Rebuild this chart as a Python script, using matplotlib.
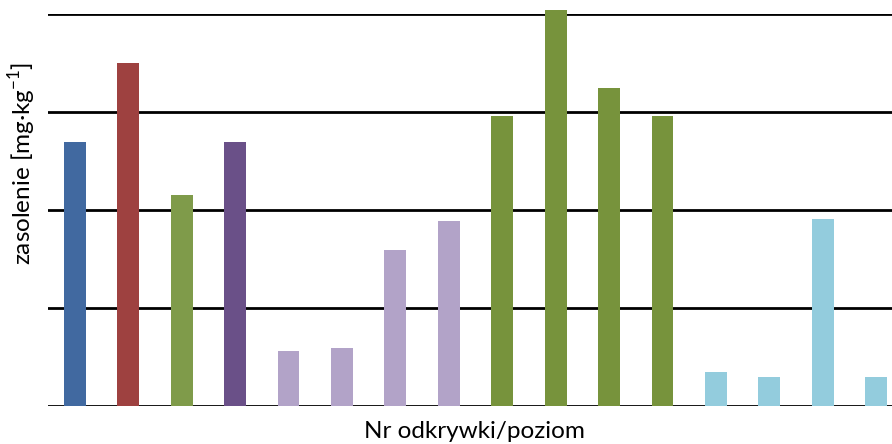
import matplotlib
matplotlib.use('Agg')
import matplotlib.pyplot as plt

plt.rcParams['font.family'] = ['Lato', 'DejaVu Sans']
plt.rcParams['mathtext.fontset'] = 'custom'
plt.rcParams['mathtext.rm'] = 'Lato'

# bar heights in gridline units (no tick labels on the original)
values = [2.69, 3.50, 2.15, 2.69, 0.56, 0.59, 1.59, 1.89,
          2.96, 4.04, 3.24, 2.96, 0.35, 0.30, 1.91, 0.30]
colors = ['#4169A0', '#9E4140', '#7F9B4A', '#6A5088',
          '#B2A3C8', '#B2A3C8', '#B2A3C8', '#B2A3C8',
          '#77933C', '#77933C', '#77933C', '#77933C',
          '#93CCDD', '#93CCDD', '#93CCDD', '#93CCDD']
grid_levels = [0, 1, 2, 3, 4]

W, H = 892, 444
fig = plt.figure(figsize=(W / 100, H / 100), dpi=100)
# axes runs a bit past the right edge, as in the cropped original
left, right, bottom, top = 48, 903, 406, 14
ax = fig.add_axes([left / W, (H - bottom) / H, (right - left) / W, (bottom - top) / H])

x = list(range(len(values)))
ax.bar(x, values, width=0.41, color=colors, zorder=3, clip_on=False)
for g in grid_levels:
    ax.axhline(g, color='black', lw=2.0, zorder=2)

ax.set_xlim(-0.5, len(values) - 0.5)
ax.set_ylim(0, 4)
ax.set_xticks([])
ax.set_yticks([])
for s in ax.spines.values():
    s.set_visible(False)

fig.text(474 / W, 1 - 431 / H, 'Nr odkrywki/poziom', ha='center', va='center', fontsize=17.5)
fig.text(22 / W, 1 - 163 / H, 'zasolenie [mg·kg$^{-1}$]', ha='center', va='center',
         rotation=90, fontsize=17.5)

fig.savefig('out.png', dpi=100)
